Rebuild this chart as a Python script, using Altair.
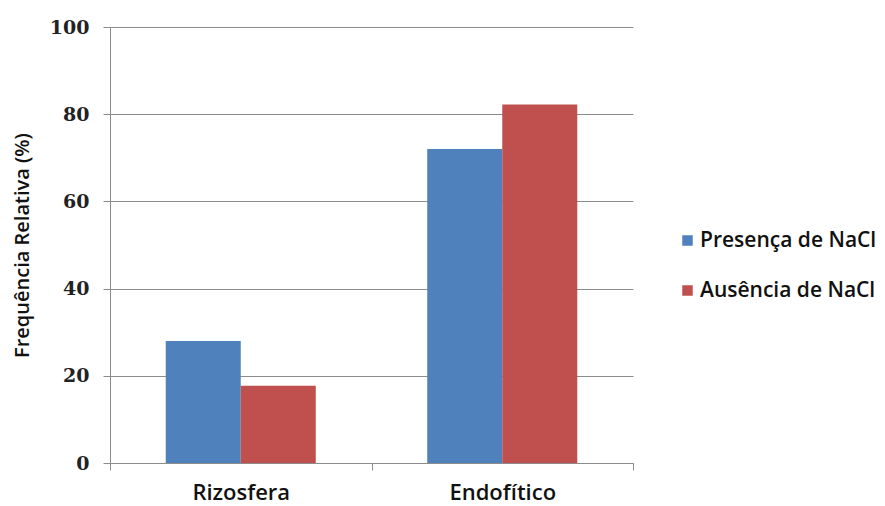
import altair as alt
import pandas as pd

# Relative frequency (%) of isolates by origin, with and without NaCl
categorias = ["Rizosfera", "Endofítico"]
presenca_nacl = [28, 72]
ausencia_nacl = [17.7, 82.2]
series = ["Presença de NaCl", "Ausência de NaCl"]
cores = ["#4f81bd", "#c0504d"]

rows = []
for i, cat in enumerate(categorias):
    rows.append({"origem": cat, "grupo": series[0], "freq": presenca_nacl[i]})
    rows.append({"origem": cat, "grupo": series[1], "freq": ausencia_nacl[i]})
df = pd.DataFrame(rows)

sans = "Open Sans"
serif = "DejaVu Serif"

chart = alt.Chart(df).mark_bar().encode(
    x=alt.X(
        "origem:N",
        sort=categorias,
        title=None,
        scale=alt.Scale(paddingInner=0, paddingOuter=0),
        axis=alt.Axis(
            labelAngle=0,
            labelFont=sans,
            labelFontSize=22,
            labelFontWeight=600,
            labelColor="#111111",
            labelPadding=12,
            tickBand="extent",
            tickSize=7,
            tickColor="#8c8c8c",
            domainColor="#8c8c8c",
            grid=False,
        ),
    ),
    xOffset=alt.XOffset(
        "grupo:N",
        sort=series,
        scale=alt.Scale(paddingInner=0, paddingOuter=0.743),
    ),
    y=alt.Y(
        "freq:Q",
        title="Frequência Relativa (%)",
        scale=alt.Scale(domain=[0, 100]),
        axis=alt.Axis(
            values=[0, 20, 40, 60, 80, 100],
            labelFont=serif,
            labelFontWeight="bold",
            labelFontSize=19,
            labelColor="#222222",
            labelPadding=14,
            tickSize=7,
            tickColor="#8c8c8c",
            domainColor="#8c8c8c",
            gridColor="#8c8c8c",
            titleFont=sans,
            titleFontSize=20,
            titleFontWeight=600,
            titleColor="#111111",
            titleX=-78,
        ),
    ),
    color=alt.Color(
        "grupo:N",
        sort=series,
        scale=alt.Scale(domain=series, range=cores),
        legend=alt.Legend(
            title=None,
            orient="none",
            legendX=567,
            legendY=203,
            symbolType="square",
            symbolSize=110,
            symbolStrokeWidth=0,
            labelFont=sans,
            labelFontSize=21,
            labelFontWeight=600,
            labelColor="#111111",
            labelOffset=2,
            labelLimit=400,
            rowPadding=28,
            padding=0,
        ),
    ),
).properties(
    width=523,
    height=436,
    padding={"left": 110, "top": 27, "right": 252, "bottom": 43},
    autosize=alt.AutoSizeParams(type="none"),
    background="white",
).configure_view(stroke=None)

chart.save("out.html", embed_options={"renderer": "svg", "actions": False})
